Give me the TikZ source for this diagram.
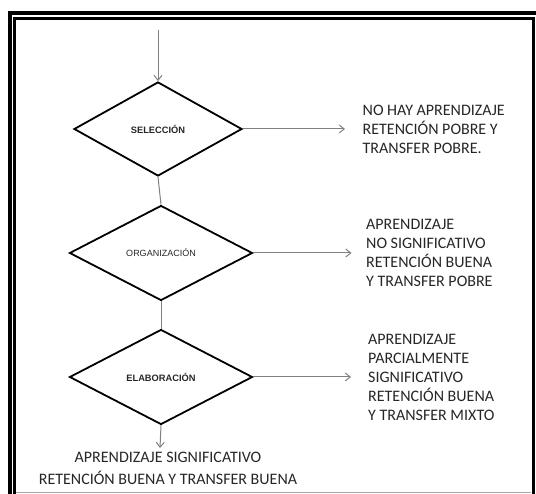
\documentclass[tikz,border=0pt]{standalone}
\usepackage{fontspec}
\setmainfont{Carlito}
\newfontfamily\arialfont{Liberation Sans}
\usetikzlibrary{shapes.geometric,arrows.meta,positioning}

\begin{document}
\begin{tikzpicture}[x=1pt,y=-1pt,
    paso/.style={diamond,draw=black,line width=1.8pt,inner sep=0pt,minimum width=183pt,minimum height=95pt,
        font=\arialfont\fontsize{9.3}{11}\selectfont\bfseries,text=black!85},
    linea/.style={draw=black!50,line width=1pt},
    flecha/.style={linea,-{Straight Barb[length=5pt,width=8pt]}},
    resultado/.style={align=left,inner sep=0pt,font=\fontsize{16}{19}\selectfont,text=black!85}]
    \useasboundingbox (0,0) rectangle (536,494);
    \clip (0,0) rectangle (536,494);

    % Double frame round the page (cut off at the right and bottom)
    \draw[line width=4pt] (10,500) -- (10,13.5) -- (545,13.5);
    \draw[line width=3pt] (14.5,500) -- (14.5,18.5) -- (533,18.5) -- (533,500);
    \draw[black!35,line width=1pt] (16,492.5) -- (531,492.5);

    % The three steps
    \node[paso,minimum width=168pt,minimum height=94pt] (seleccion) at (158,129) {SELECCIÓN};
    \node[paso,font=\arialfont\fontsize{9}{11}\selectfont] (organizacion) at (161,253) {ORGANIZACIÓN};
    \node[paso] (elaboracion) at (161,377) {ELABORACIÓN};

    % Free ends of the arrows
    \coordinate (inicio) at (158,30);
    \coordinate (fin) at (160,448);
    \coordinate (punta1) at (345,129);
    \coordinate (punta2) at (351.5,253);
    \coordinate (punta3) at (351,377);

    % Outcomes
    \node[resultado,right=17.5pt of punta1] (res1) {NO HAY APRENDIZAJE\\RETENCIÓN POBRE Y\\TRANSFER POBRE.};
    \node[resultado,right=14.5pt of punta2] (res2) {APRENDIZAJE\\NO SIGNIFICATIVO\\RETENCIÓN BUENA\\Y TRANSFER POBRE};
    \node[resultado,right=17pt of punta3] (res3) {APRENDIZAJE\\PARCIALMENTE\\SIGNIFICATIVO\\RETENCIÓN BUENA\\Y TRANSFER MIXTO};
    \node[resultado,align=center,anchor=north,font=\fontsize{16}{21.5}\selectfont] (res4) at (168,452)
        {APRENDIZAJE SIGNIFICATIVO\\RETENCIÓN BUENA Y TRANSFER BUENA};

    % Connectors down the chain
    \draw[flecha] (inicio) -- (seleccion.north);
    \draw[linea] (seleccion.south) -- (organizacion.north);
    \draw[linea] (organizacion.south) -- (elaboracion.north);
    \draw[flecha] (elaboracion.south) -- (fin);

    % Connectors to the outcomes
    \draw[flecha] (seleccion.east) -- (punta1);
    \draw[flecha] (organizacion.east) -- (punta2);
    \draw[flecha] (elaboracion.east) -- (punta3);
\end{tikzpicture}
\end{document}
